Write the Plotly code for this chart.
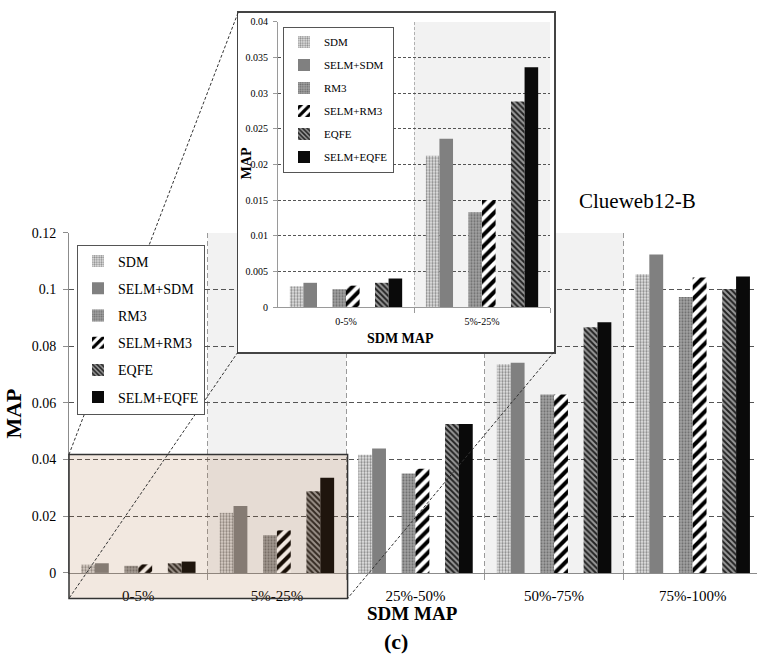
import plotly.graph_objects as go

# ---------------- data ----------------
categories = ["0-5%", "5%-25%", "25%-50%", "50%-75%", "75%-100%"]
series_names = ["SDM", "SELM+SDM", "RM3", "SELM+RM3", "EQFE", "SELM+EQFE"]
sdm = [0.0029, 0.0212, 0.0417, 0.0736, 0.1054]
selm_sdm = [0.0034, 0.0236, 0.0439, 0.0741, 0.1123]
rm3 = [0.0025, 0.0133, 0.0351, 0.0629, 0.0973]
selm_rm3 = [0.0030, 0.0150, 0.0367, 0.0629, 0.1042]
eqfe = [0.0034, 0.0288, 0.0525, 0.0867, 0.1002]
selm_eqfe = [0.0040, 0.0336, 0.0525, 0.0884, 0.1046]
series_values = [sdm, selm_sdm, rm3, selm_rm3, eqfe, selm_eqfe]

main_ticks = [0, 0.02, 0.04, 0.06, 0.08, 0.1, 0.12]
main_ticktext = ["0", "0.02", "0.04", "0.06", "0.08", "0.1", "0.12"]
inset_n = 2  # the inset zooms on the first two categories
inset_ticks = [0, 0.005, 0.01, 0.015, 0.02, 0.025, 0.03, 0.035, 0.04]
inset_ticktext = ["0", "0.005", "0.01", "0.015", "0.02", "0.025", "0.03", "0.035", "0.04"]

# ---------------- styles ----------------
W, H = 757, 663
SERIF = "Liberation Serif"
offsets = [-0.363, -0.263, -0.05, 0.05, 0.263, 0.363]
bar_w = 0.1
styles = [
    dict(color="#e6e6e6", pattern=dict(shape=".", fgcolor="#8a8a8a", bgcolor="#e6e6e6", size=3, solidity=0.45, fgopacity=1)),
    dict(color="#808080"),
    dict(color="#a8a8a8", pattern=dict(shape=".", fgcolor="#6a6a6a", bgcolor="#a4a4a4", size=3, solidity=0.4, fgopacity=1)),
    dict(color="#000000", pattern=dict(shape="/", fgcolor="#000000", bgcolor="#ffffff", size=8, solidity=0.5, fgopacity=1)),
    dict(color="#333333", pattern=dict(shape="\\", fgcolor="#222222", bgcolor="#9a9a9a", size=4, solidity=0.5, fgopacity=1)),
    dict(color="#0a0a0a"),
]


def px(x):
    return x / W


def py(y):
    return 1 - y / H


main_xdom = [px(69), 1.0]
group_px = 138.6
main_xrange = [-0.5, -0.5 + (757 - 69) / group_px]
main_ydom = [py(579), py(231)]
main_yrange = [0, 0.12]

box_xdom = [px(238), px(554)]
box_ydom = [py(353), py(6)]

inset_xdom = [px(278), px(550)]
inset_ydom = [py(307), py(15)]
inset_xrange = [-0.5, 1.5]
inset_yrange = [0, 0.04]


def mx(v):
    return main_xdom[0] + (v - main_xrange[0]) / (main_xrange[1] - main_xrange[0]) * (main_xdom[1] - main_xdom[0])


def my(v):
    return main_ydom[0] + (v - main_yrange[0]) / (main_yrange[1] - main_yrange[0]) * (main_ydom[1] - main_ydom[0])


fig = go.Figure()

for i, (name, vals) in enumerate(zip(series_names, series_values)):
    fig.add_trace(go.Bar(
        x=[g + offsets[i] for g in range(len(categories))], y=vals, width=bar_w,
        name=name, marker=dict(line=dict(width=0), **styles[i]),
        xaxis="x", yaxis="y", legend="legend", legendgroup="m" + name,
        hoverinfo="skip",
    ))

fig.add_trace(go.Scatter(x=[None], y=[None], xaxis="x2", yaxis="y2", showlegend=False, hoverinfo="skip"))

for i, (name, vals) in enumerate(zip(series_names, series_values)):
    fig.add_trace(go.Bar(
        x=[g + offsets[i] for g in range(inset_n)], y=vals[:inset_n], width=bar_w,
        name=name, marker=dict(line=dict(width=0), **styles[i]),
        xaxis="x3", yaxis="y3", legend="legend2", legendgroup="i" + name,
        hoverinfo="skip",
    ))

shapes = []
for g in (1, 3):
    shapes.append(dict(type="rect", xref="x", yref="y", x0=g - 0.5, x1=g + 0.5, y0=0, y1=0.12,
                       fillcolor="#f2f2f2", line=dict(width=0), layer="below"))
shapes.append(dict(type="rect", xref="x3", yref="y3", x0=0.5, x1=1.5, y0=0, y1=0.04,
                   fillcolor="#f2f2f2", line=dict(width=0), layer="below"))

rx0, rx1 = mx(-0.5), mx(1.51)
ry0, ry1 = my(-0.009), my(0.0418)
shapes.append(dict(type="rect", xref="paper", yref="paper", x0=rx0, x1=rx1, y0=ry0, y1=ry1,
                   fillcolor="rgba(160,95,35,0.14)", line=dict(color="#333333", width=1.5), layer="above"))
conn = [((box_xdom[0], box_ydom[1]), (rx0, ry1)),
        ((box_xdom[0], box_ydom[0]), (rx0, ry0)),
        ((box_xdom[1], box_ydom[0]), (rx1, ry0))]
for (a, b) in conn:
    shapes.append(dict(type="line", xref="paper", yref="paper", x0=a[0], y0=a[1], x1=b[0], y1=b[1],
                       line=dict(color="#333333", width=1, dash="3px,2px"), layer="above"))


def ann(text, x, y, size, angle=0):
    return dict(text=text, x=px(x), y=py(y), xref="paper", yref="paper", showarrow=False,
                xanchor="center", yanchor="middle", textangle=angle,
                font=dict(family=SERIF, size=size, color="black"))


annotations = [
    ann("Clueweb12-B", 637, 199, 21),
    ann("<b>SDM MAP</b>", 412, 621, 19),
    ann("<b>(c)</b>", 396, 649, 22),
    ann("<b>MAP</b>", 14, 416, 22, -90),
    ann("<b>SDM MAP</b>", 400, 339, 14),
    ann("<b>MAP</b>", 246, 160, 14, -90),
]

fig.update_layout(
    width=W, height=H, margin=dict(l=0, r=0, t=0, b=0),
    paper_bgcolor="white", plot_bgcolor="white",
    barmode="overlay", showlegend=True, hovermode=False,
    font=dict(family=SERIF, color="black"),
    xaxis=dict(domain=main_xdom, range=main_xrange, anchor="y",
               tickvals=list(range(len(categories))), ticktext=categories, ticks="",
               showgrid=False, zeroline=False, showline=True, linecolor="#8c8c8c", linewidth=1,
               tickfont=dict(family=SERIF, size=15), ticklabelstandoff=9,
               minor=dict(tickvals=[g + 0.5 for g in range(len(categories) - 1)], showgrid=True,
                          gridcolor="#9a9a9a", griddash="5px,3px", gridwidth=1,
                          ticks="outside", ticklen=6, tickcolor="#9a9a9a")),
    yaxis=dict(domain=main_ydom, range=main_yrange, anchor="x",
               tickvals=main_ticks, ticktext=main_ticktext, ticks="outside", ticklen=5, tickcolor="#8c8c8c",
               showgrid=True, gridcolor="#555555", griddash="5px,3px", gridwidth=1,
               zeroline=False, showline=True, linecolor="#8c8c8c", linewidth=1,
               tickfont=dict(family=SERIF, size=14), ticklabelstandoff=4),
    xaxis2=dict(domain=box_xdom, range=[0, 1], anchor="y2", showgrid=False, zeroline=False,
                showticklabels=False, ticks="", showline=True, mirror=True, linecolor="#444444", linewidth=1.5),
    yaxis2=dict(domain=box_ydom, range=[0, 1], anchor="x2", showgrid=False, zeroline=False,
                showticklabels=False, ticks="", showline=True, mirror=True, linecolor="#444444", linewidth=1.5),
    xaxis3=dict(domain=inset_xdom, range=inset_xrange, anchor="y3",
                tickvals=list(range(inset_n)), ticktext=categories[:inset_n], ticks="",
                showgrid=False, zeroline=False, showline=True, linecolor="#9a9a9a", linewidth=1,
                tickfont=dict(family=SERIF, size=10), ticklabelstandoff=5,
                minor=dict(tickvals=[0.5, 1.5], showgrid=True, gridcolor="#b0b0b0", griddash="3px,2px",
                           gridwidth=1, ticks="outside", ticklen=5, tickcolor="#9a9a9a")),
    yaxis3=dict(domain=inset_ydom, range=inset_yrange, anchor="x3",
                tickvals=inset_ticks, ticktext=inset_ticktext, ticks="outside", ticklen=4, tickcolor="#9a9a9a",
                showgrid=True, gridcolor="#555555", griddash="3px,2px", gridwidth=1,
                zeroline=False, showline=True, linecolor="#9a9a9a", linewidth=1,
                tickfont=dict(family=SERIF, size=10), ticklabelstandoff=3),
    legend=dict(x=px(77), y=py(243), xanchor="left", yanchor="top", bgcolor="white",
                bordercolor="#555555", borderwidth=1, font=dict(family=SERIF, size=14, color="black"),
                traceorder="grouped", tracegroupgap=6, itemwidth=30),
    legend2=dict(x=px(283), y=py(20), xanchor="left", yanchor="top", bgcolor="white",
                 bordercolor="#555555", borderwidth=1, font=dict(family=SERIF, size=11, color="black"),
                 traceorder="grouped", tracegroupgap=4, itemwidth=30),
    shapes=shapes, annotations=annotations,
)

fig.write_html("out.html", config={"displayModeBar": False, "staticPlot": True},
               post_script="document.body.style.margin='0';")
